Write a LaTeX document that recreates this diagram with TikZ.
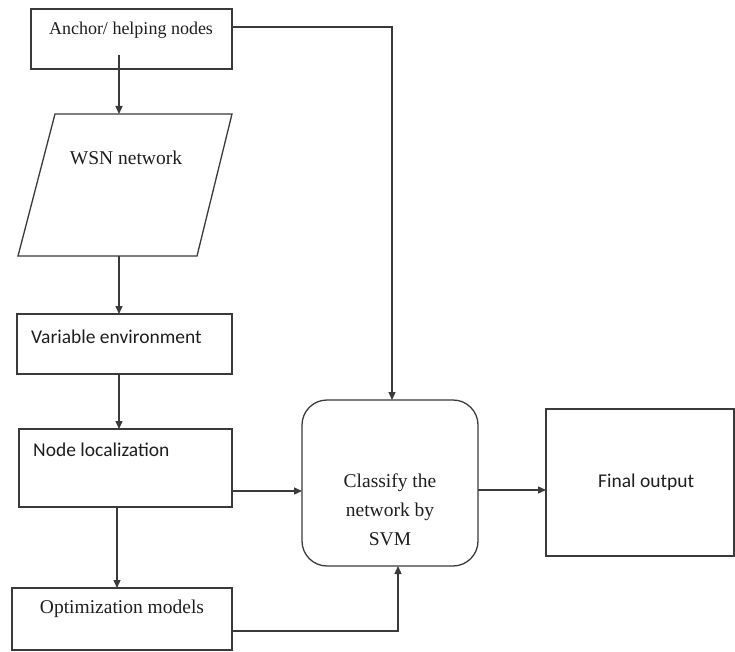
\documentclass[tikz,border=0pt]{standalone}
\usepackage{fontspec}
\setmainfont{Liberation Serif}
\newfontfamily\serifbody{Liberation Serif}
\newfontfamily\sansbody{Carlito}
\usetikzlibrary{arrows.meta}
\definecolor{ink}{HTML}{3A3A3A}
\definecolor{textink}{HTML}{1E1E1E}
\begin{document}
\begin{tikzpicture}[x=1pt,y=-1pt,
  box/.style={draw=ink, line width=1.3pt, rectangle, inner sep=0pt, outer sep=0pt},
  flow/.style={draw=ink, line width=1.3pt, -{Triangle[length=8pt,width=7pt]}},
  link/.style={draw=ink, line width=1.3pt},
  serifText/.style={font=\serifbody\fontsize{19.5}{29}\selectfont, text=textink, inner sep=0pt, align=center},
  sansText/.style={font=\sansbody\fontsize{19.5}{24}\selectfont, text=textink, inner sep=0pt, anchor=west},
]
\useasboundingbox (0,0) rectangle (735,652);

% boxes
\node[box, minimum width=201pt, minimum height=60pt] (anchor) at (131.5,39) {};
\node[box, minimum width=215pt, minimum height=60pt] (varenv) at (124.5,344) {};
\node[box, minimum width=213pt, minimum height=78pt] (nodeloc) at (125.5,468) {};
\node[box, minimum width=220pt, minimum height=62pt] (optim) at (122,619) {};
\node[box, rounded corners=25pt, minimum width=176pt, minimum height=166pt] (svm) at (390,483) {};
\node[box, minimum width=188pt, minimum height=147pt] (final) at (640,482.5) {};

% input parallelogram
\coordinate (wsnTop) at (119,114);
\coordinate (wsnBottom) at (119,256);
\draw[link, line join=miter] (55,114) -- (232,114) -- (197,256) -- (18,256) -- cycle;

% labels
\node[serifText, font=\serifbody\fontsize{18}{22}\selectfont] (anchorLabel) at (131,30) {Anchor/ helping nodes};
\node[serifText] (wsnLabel) at (126,158) {WSN network};
\node[sansText] (varenvLabel) at (31,337) {Variable environment};
\node[sansText] (nodelocLabel) at (33,450) {Node localization};
\node[serifText] (optimLabel) at (122,609) {Optimization models};
\node[serifText] (svmLabel) at (390,510) {Classify the\\network by\\SVM};
\node[sansText] (finalLabel) at (598,482) {Final output};

% connectors
\coordinate (anchorTap) at (119,55);
\draw[flow] (anchorTap) -- (wsnTop);
\draw[flow] (wsnBottom) -- (wsnBottom |- varenv.north);
\draw[flow] (119,0 |- varenv.south) -- (119,0 |- nodeloc.north);
\draw[flow] (117,0 |- nodeloc.south) -- (117,0 |- optim.north);
\draw[flow] (nodeloc.east |- 0,491) -- (svm.west |- 0,491);
\draw[flow] (svm.east |- 0,490) -- (final.west |- 0,490);
\draw[flow] (anchor.east |- 0,27) -| ([xshift=2pt]svm.north);
\draw[flow] (optim.east |- 0,631) -| ([xshift=8pt]svm.south);
\end{tikzpicture}
\end{document}
